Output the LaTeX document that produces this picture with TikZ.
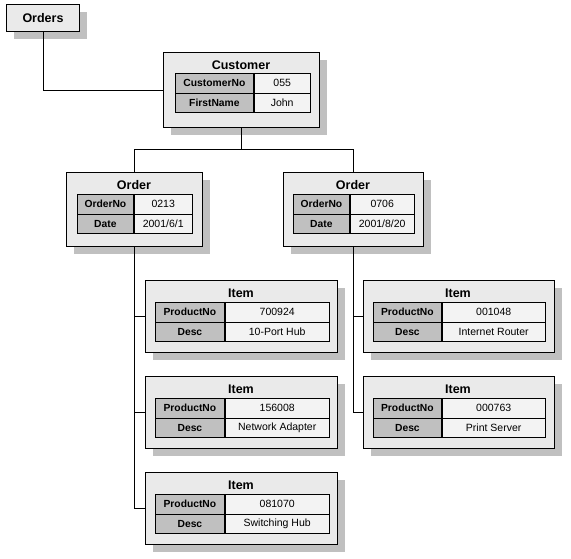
\documentclass[tikz,border=0pt]{standalone}
\usepackage{fontspec}
\setmainfont{Liberation Sans}
\usetikzlibrary{shadows}
\definecolor{boxfill}{HTML}{EAEAEA}
\definecolor{shadowgray}{HTML}{C0C0C0}
\definecolor{labfill}{HTML}{C0C0C0}
\definecolor{valfill}{HTML}{F3F3F3}
\tikzset{
  entbox/.style={draw=black, line width=1pt, fill=boxfill, inner sep=0pt,
    anchor=north west,
    drop shadow={shadow xshift=7pt, shadow yshift=-7pt, fill=shadowgray, opacity=1}},
  enttitle/.style={inner sep=0pt, font=\fontsize{12.5}{14}\selectfont\bfseries},
  labcell/.style={draw=black, line width=0.8pt, fill=labfill, inner sep=0pt,
    minimum height=19.5pt, anchor=north west, font=\fontsize{10.3}{12}\selectfont\bfseries},
  valcell/.style={draw=black, line width=0.8pt, fill=valfill, inner sep=0pt,
    minimum height=19.5pt, anchor=north west, font=\fontsize{10.5}{12}\selectfont},
  conn/.style={draw=black, line width=1pt}
}
% name, x, y, w, h, title, title x
\newcommand\entitybox[7]{%
  \node[entbox, minimum width=#4pt, minimum height=#5pt] (#1) at (#2,#3) {};
  \node[enttitle] (#1-t) at (#7,#3+13) {#6};
}
% name, x, y, label width, value width, label, value
\newcommand\entityrow[7]{%
  \node[labcell, minimum width=#4pt] (#1-l) at (#2,#3) {#6};
  \node[valcell, minimum width=#5pt] (#1-v) at (#1-l.north east) {#7};
}
\begin{document}
\begin{tikzpicture}[x=1pt,y=-1pt]
\useasboundingbox (0,0) rectangle (571,558);
% Orders
\node[entbox, minimum width=73pt, minimum height=27pt] (orders) at (6,4) {};
\node[enttitle] (orders-t) at (orders.center) {Orders};
% Customer
\entitybox{cust}{163}{52}{156}{75}{Customer}{241}
\entityrow{cust1}{175}{73}{78}{56}{CustomerNo}{055}
\entityrow{cust2}{175}{92.5}{78}{56}{FirstName}{John}
% Orders (entities)
\entitybox{ordL}{66}{172}{136}{74}{Order}{134}
\entityrow{ordL1}{77}{194}{56}{58}{OrderNo}{0213}
\entityrow{ordL2}{77}{213.5}{56}{58}{Date}{2001/6/1}
\entitybox{ordR}{283}{172}{140}{74}{Order}{353}
\entityrow{ordR1}{293}{194}{56}{64}{OrderNo}{0706}
\entityrow{ordR2}{293}{213.5}{56}{64}{Date}{2001/8/20}
% Items left
\entitybox{itL1}{145}{280}{192}{72}{Item}{241}
\entityrow{itL1a}{155}{302}{69}{104}{ProductNo}{700924}
\entityrow{itL1b}{155}{321.5}{69}{104}{Desc}{10-Port Hub}
\entitybox{itL2}{145}{376}{192}{72}{Item}{241}
\entityrow{itL2a}{155}{398}{69}{104}{ProductNo}{156008}
\entityrow{itL2b}{155}{417.5}{69}{104}{Desc}{Network Adapter}
\entitybox{itL3}{145}{472}{192}{72}{Item}{241}
\entityrow{itL3a}{155}{494}{69}{104}{ProductNo}{081070}
\entityrow{itL3b}{155}{513.5}{69}{104}{Desc}{Switching Hub}
% Items right
\entitybox{itR1}{363}{280}{191}{72}{Item}{458}
\entityrow{itR1a}{373}{302}{68}{103}{ProductNo}{001048}
\entityrow{itR1b}{373}{321.5}{68}{103}{Desc}{Internet Router}
\entitybox{itR2}{363}{376}{191}{72}{Item}{458}
\entityrow{itR2a}{373}{398}{68}{103}{ProductNo}{000763}
\entityrow{itR2b}{373}{417.5}{68}{103}{Desc}{Print Server}
% connectors
\draw[conn] (orders.south) |- (cust.west);
\draw[conn] (cust.south) -- ++(0,21) -| (ordL.north);
\draw[conn] (cust.south) -- ++(0,21) -| (ordR.north);
\draw[conn] (ordL.south) |- (itL1.west);
\draw[conn] (ordL.south) |- (itL2.west);
\draw[conn] (ordL.south) |- (itL3.west);
\draw[conn] (ordR.south) |- (itR1.west);
\draw[conn] (ordR.south) |- (itR2.west);
\end{tikzpicture}
\end{document}
